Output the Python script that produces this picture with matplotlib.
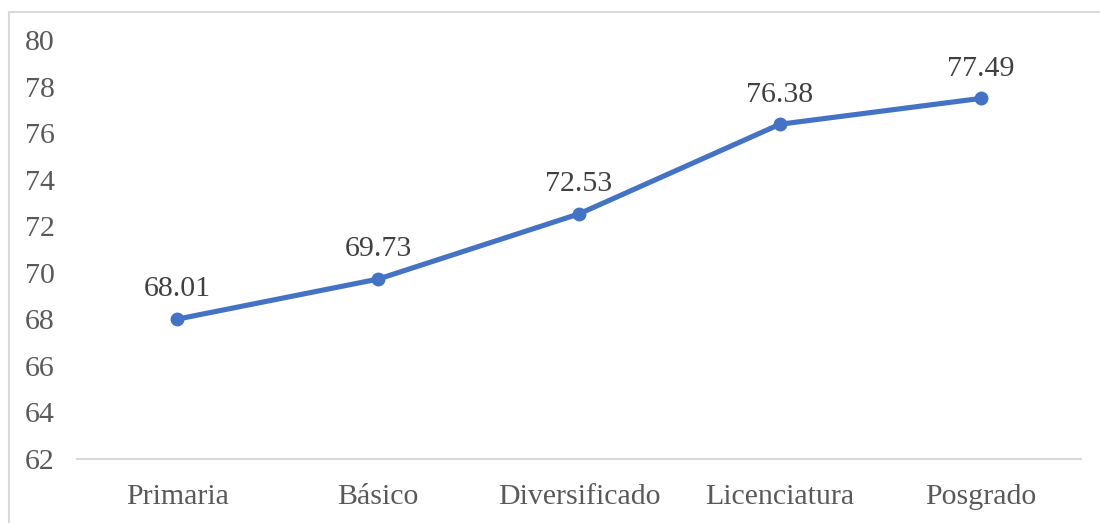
import matplotlib
matplotlib.use("Agg")
import matplotlib.pyplot as plt
from matplotlib.lines import Line2D

categories = ["Primaria", "Básico", "Diversificado", "Licenciatura", "Posgrado"]
values = [68.01, 69.73, 72.53, 76.38, 77.49]
yticks = [62, 64, 66, 68, 70, 72, 74, 76, 78, 80]

plt.rcParams["font.family"] = ["Liberation Serif", "DejaVu Serif"]

fig = plt.figure(figsize=(11, 5.23), dpi=100)
ax = fig.add_axes([77 / 1100, 1 - 459 / 523, (1081 - 77) / 1100, (459 - 40) / 523])

x = list(range(len(categories)))
ax.plot(x, values, color="#4472C4", lw=3.7, marker="o", ms=9,
        solid_capstyle="round", solid_joinstyle="round", zorder=3)

for xi, v in zip(x, values):
    ax.annotate(f"{v:.2f}", (xi, v), xytext=(0, 12), textcoords="offset points",
                ha="center", va="bottom", fontsize=21.5, color="#404040")

ax.set_xlim(-0.5, len(categories) - 0.5)
ax.set_ylim(62, 80)
ax.set_yticks(yticks)
ax.set_yticklabels([str(t) for t in yticks])
ax.set_xticks(x)
ax.set_xticklabels(categories)
ax.tick_params(axis="both", length=0, labelsize=21.5, labelcolor="#595959")
ax.tick_params(axis="y", pad=16)
ax.tick_params(axis="x", pad=18)
for side in ["top", "right", "left"]:
    ax.spines[side].set_visible(False)
ax.spines["bottom"].set_color("#D9D9D9")
ax.spines["bottom"].set_linewidth(1.5)

# chart area frame
fig.add_artist(Line2D([8.5 / 1100, 8.5 / 1100], [0, 1 - 11.5 / 523], transform=fig.transFigure,
                      color="#D9D9D9", lw=1.5))
fig.add_artist(Line2D([8.5 / 1100, 1], [1 - 11.5 / 523, 1 - 11.5 / 523], transform=fig.transFigure,
                      color="#D9D9D9", lw=1.5))

fig.savefig("out.png", dpi=100)
